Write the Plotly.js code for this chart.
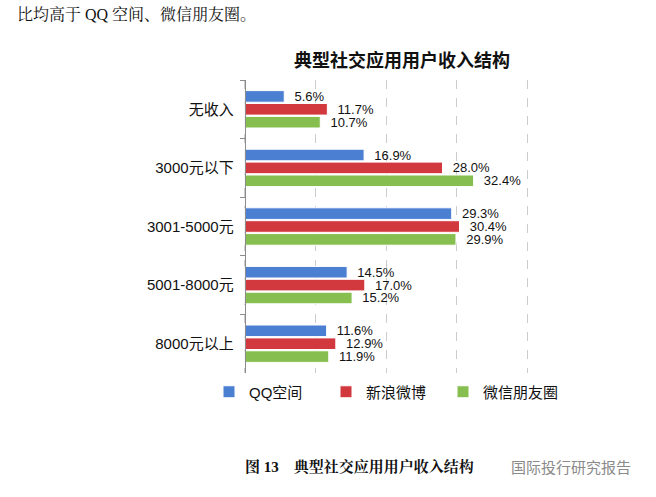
<!DOCTYPE html>
<html>
<head>
<meta charset="utf-8">
<script src="https://cdn.plot.ly/plotly-3.0.1.min.js"></script>
<style>
  html, body { margin: 0; padding: 0; background: #fff; }
  #chart { width: 656px; height: 497px; }
</style>
</head>
<body>
<div id="chart"></div>
<script>
// income groups, top to bottom
var categories = ['无收入', '3000元以下', '3001-5000元', '5001-8000元', '8000元以上'];
var seriesNames = ['QQ空间', '新浪微博', '微信朋友圈'];
var qqValues = [5.6, 16.9, 29.3, 14.5, 11.6];
var weiboValues = [11.7, 28.0, 30.4, 17.0, 12.9];
var wechatValues = [10.7, 32.4, 29.9, 15.2, 11.9];
var colors = ['#4a7fd2', '#d2393e', '#86bf4f'];

var W = 656, H = 497;
var L = 174, R = 58, T = 80, B = 124;
// pixel -> paper helpers for the loose text around the chart
function px(x) { return (x - L) / (W - L - R); }
function py(y) { return (H - B - y) / (H - T - B); }

var font = 'Liberation Sans, Arial, Noto Sans CJK SC, sans-serif';

function makeBar(vals, i) {
    return {
        type: 'bar',
        orientation: 'h',
        name: seriesNames[i],
        y: categories,
        x: vals,
        text: vals.map(function(v) { return '\u00a0\u00a0' + v.toFixed(1) + '%'; }),
        textposition: 'outside',
        constraintext: 'none',
        cliponaxis: false,
        textfont: {family: font, size: 13, color: '#111'},
        marker: {color: colors[i], line: {color: '#fff', width: 1}},
        hoverinfo: 'skip'
    };
}

var data = [makeBar(qqValues, 0), makeBar(weiboValues, 1), makeBar(wechatValues, 2)];

var layout = {
    width: W,
    height: H,
    margin: {l: L, r: R, t: T, b: B, pad: 0},
    paper_bgcolor: '#fff',
    plot_bgcolor: '#fff',
    font: {family: font, color: '#111'},
    showlegend: true,
    barmode: 'group',
    bargap: 0.34,
    bargroupgap: 0.1,
    title: {
        text: '典型社交应用用户收入结构',
        font: {family: 'Noto Sans CJK SC, sans-serif', size: 18, weight: 'bold', color: '#111'},
        xref: 'paper', x: px(402), xanchor: 'center',
        yref: 'container', y: 1 - 61 / H, yanchor: 'middle'
    },
    xaxis: {
        range: [-10, 50],
        tick0: 0,
        dtick: 10,
        showticklabels: false,
        showgrid: true,
        griddash: 'dash',
        gridcolor: '#cccccc',
        gridwidth: 1,
        zeroline: false,
        showline: false,
        fixedrange: true
    },
    yaxis: {
        type: 'category',
        autorange: 'reversed',
        anchor: 'free',
        position: 10 / 60,
        showline: true,
        linecolor: '#8c8c8c',
        linewidth: 1,
        ticks: 'outside',
        tickson: 'boundaries',
        ticklen: 5,
        tickcolor: '#8c8c8c',
        ticklabelstandoff: 8,
        showgrid: false,
        tickfont: {family: font, size: 15, color: '#111'},
        fixedrange: true
    },
    legend: {
        orientation: 'h',
        x: px(209),
        xanchor: 'left',
        y: py(392),
        yanchor: 'middle',
        entrywidth: 72,
        itemwidth: 30,
        font: {family: font, size: 15, color: '#111'},
        bgcolor: 'rgba(0,0,0,0)'
    },
    annotations: [
        {
            text: '比均高于 QQ 空间、微信朋友圈。',
            xref: 'paper', yref: 'paper', x: px(15), y: py(14),
            xanchor: 'left', yanchor: 'middle', showarrow: false,
            font: {family: 'Liberation Serif, Noto Serif CJK SC, Noto Sans CJK SC, serif', size: 16, color: '#111'}
        },
        {
            text: '图 13　典型社交应用用户收入结构',
            xref: 'paper', yref: 'paper', x: px(243), y: py(467),
            xanchor: 'left', yanchor: 'middle', showarrow: false,
            font: {family: 'Liberation Serif, Noto Serif CJK SC, Noto Sans CJK SC, serif', size: 15, weight: 'bold', color: '#111'}
        },
        {
            text: '国际投行研究报告',
            xref: 'paper', yref: 'paper', x: px(509), y: py(466),
            xanchor: 'left', yanchor: 'middle', showarrow: false,
            font: {family: 'Noto Sans CJK SC, sans-serif', size: 15, color: '#8a8a8a'}
        }
    ]
};

Plotly.newPlot('chart', data, layout, {displayModeBar: false, staticPlot: true});
</script>
</body>
</html>
